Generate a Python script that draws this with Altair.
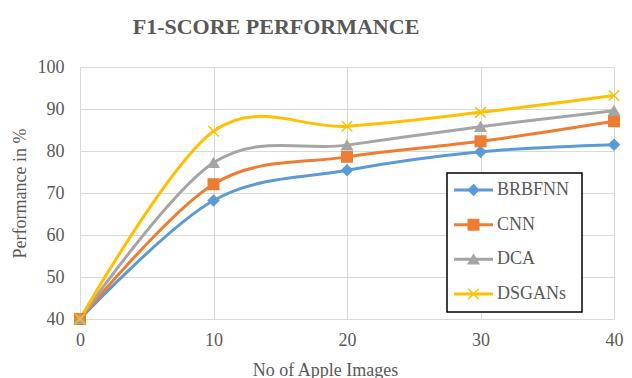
import altair as alt
import pandas as pd

names = ["BRBFNN", "CNN", "DCA", "DSGANs"]
images = [0, 10, 20, 30, 40]
brbfnn = [40, 68.2, 75.4, 79.8, 81.5]
cnn = [40, 72.1, 78.6, 82.3, 87.1]
dca = [40, 77.2, 81.4, 85.8, 89.6]
dsgans = [40, 84.7, 85.9, 89.2, 93.2]
y_ticks = [40, 50, 60, 70, 80, 90, 100]

colors = ["#5b9bd5", "#ed7d31", "#a5a5a5", "#ffc000"]
shapes = ["diamond", "square", "triangle-up", "M-1,-1L1,1M-1,1L1,-1"]
FONT = "Liberation Serif"
TXT = "#595959"
GRID = "#d9d9d9"

rows = []
for name, vals in zip(names, [brbfnn, cnn, dca, dsgans]):
    for x, v in zip(images, vals):
        rows.append({"series": name, "images": x, "value": v, "order": names.index(name)})
df = pd.DataFrame(rows)
leg = pd.DataFrame({"series": names})

cscale = alt.Scale(domain=names, range=colors)
sscale = alt.Scale(domain=names, range=shapes)

xenc = alt.X("images:Q", scale=alt.Scale(domain=[0, 40], nice=False),
             axis=alt.Axis(values=images, grid=True, gridColor=GRID, domainColor=GRID,
                           ticks=False, labelFont=FONT, labelFontSize=18, labelColor=TXT,
                           labelPadding=12, labelFlush=False, title="No of Apple Images",
                           titleFont=FONT, titleFontSize=18, titleColor=TXT,
                           titleFontWeight="normal", titleX=245, titleY=56,
                           titleBaseline="alphabetic"))
yenc = alt.Y("value:Q", scale=alt.Scale(domain=[40, 100], nice=False, zero=False),
             axis=alt.Axis(values=y_ticks, grid=True, gridColor=GRID, domainColor=GRID,
                           ticks=False, labelFont=FONT, labelFontSize=18, labelColor=TXT,
                           labelPadding=16, labelFlush=False, title="Performance in %",
                           titleFont=FONT, titleFontSize=18, titleColor=TXT,
                           titleFontWeight="normal", titlePadding=8))

base = alt.Chart(df)
lines = base.mark_line(interpolate="cardinal", tension=0, strokeWidth=3).encode(
    x=xenc, y=yenc,
    color=alt.Color("series:N", scale=cscale, legend=None),
    detail="series:N", order="order:Q")
pts = base.mark_point(filled=True, size=110, strokeWidth=1.5, opacity=1).encode(
    x=xenc, y=yenc,
    fill=alt.Fill("series:N", scale=cscale, legend=None),
    stroke=alt.Stroke("series:N", scale=cscale, legend=None),
    shape=alt.Shape("series:N", scale=sscale, legend=None),
    order="order:Q")
main = alt.layer(lines, pts)

lyscale = alt.Scale(type="point", domain=names, range=[123, 227], padding=0)
ly = alt.Y("series:N", scale=lyscale, axis=None)
lbase = alt.Chart(leg)
box = alt.Chart(pd.DataFrame({"k": [0]})).mark_rect(fill="white", stroke="black", strokeWidth=1.5).encode(
    x=alt.value(367), x2=alt.value(502), y=alt.value(106), y2=alt.value(245))
lrule = lbase.mark_rule(strokeWidth=3).encode(
    x=alt.value(374), x2=alt.value(413), y=ly,
    color=alt.Color("series:N", scale=cscale, legend=None))
lpts = lbase.mark_point(filled=True, size=110, strokeWidth=1.5, opacity=1).encode(
    x=alt.value(393.5), y=ly,
    fill=alt.Fill("series:N", scale=cscale, legend=None),
    stroke=alt.Stroke("series:N", scale=cscale, legend=None),
    shape=alt.Shape("series:N", scale=sscale, legend=None))
ltxt = lbase.mark_text(align="left", baseline="middle", font=FONT, fontSize=18, color=TXT).encode(
    x=alt.value(417), y=ly, text="series:N")
legend = alt.layer(box, lrule, lpts, ltxt)

chart = alt.layer(main, legend).resolve_scale(y="independent").properties(
    width=534, height=252,
    autosize=alt.AutoSizeParams(type="none"),
    padding={"left": 72, "top": 59, "right": 10, "bottom": 59},
    title=alt.TitleParams("F1-SCORE PERFORMANCE", font=FONT, fontSize=22, fontWeight="bold",
                          color=TXT, anchor="middle", dx=-71, offset=2, baseline="alphabetic"),
).configure(font=FONT).configure_view(stroke=None).configure_axis(
    labelFont=FONT, titleFont=FONT).configure_text(font=FONT)

chart.save("out.html", embed_options={"renderer": "svg", "actions": False})
